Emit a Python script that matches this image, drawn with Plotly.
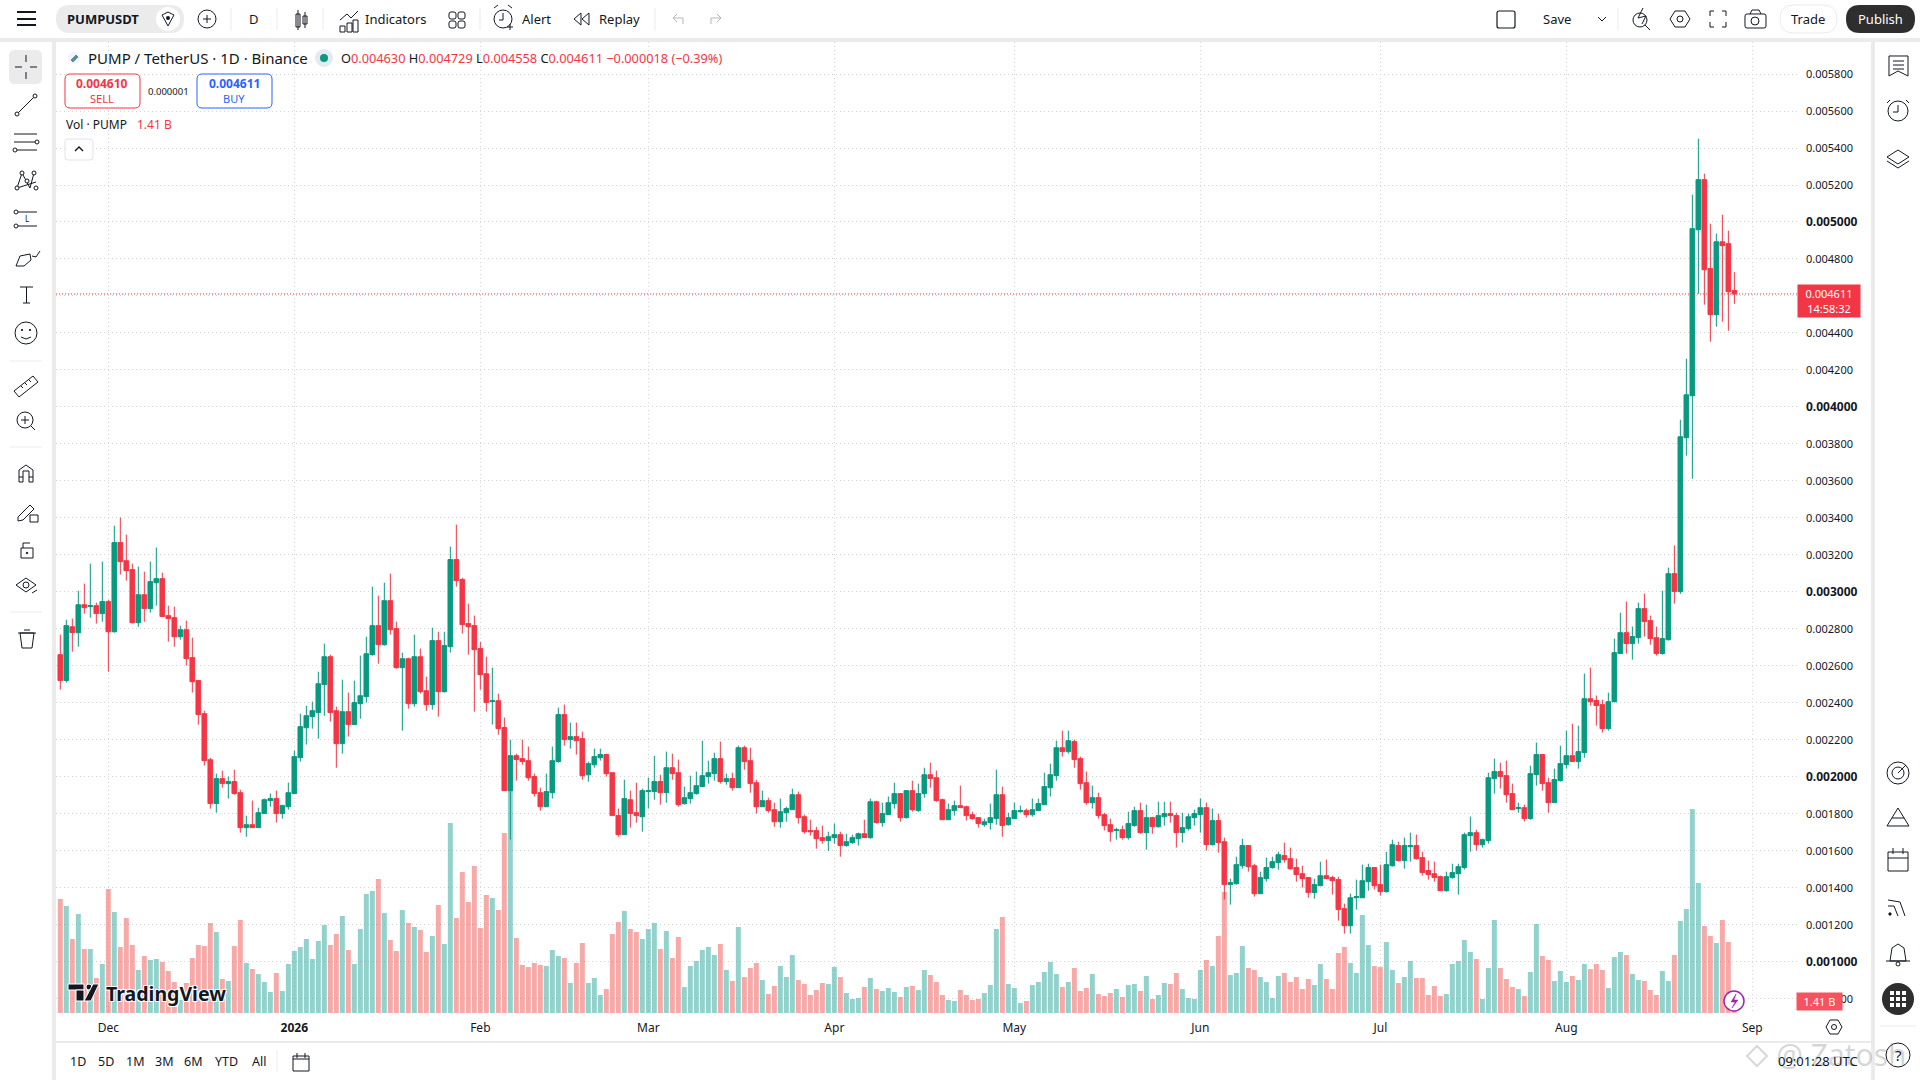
import plotly.graph_objects as go
import pandas as pd

# prices in millionths of USDT, one candle a day from 2025-11-23
opens = [
    2661, 2521, 2812, 2780, 2931, 2921, 2926, 2883, 2948, 2785,
    3267, 3169, 3121, 2834, 2985, 2910, 3050, 3072, 2872, 2861,
    2758, 2796, 2645, 2521, 2342, 2093, 1856, 1991, 1964, 1975,
    1915, 1726, 1742, 1726, 1802, 1872, 1883, 1802, 1839, 1910,
    2104, 2266, 2326, 2348, 2499, 2650, 2358, 2180, 2353, 2283,
    2396, 2434, 2661, 2818, 2715, 2953, 2802, 2591, 2639, 2396,
    2650, 2466, 2391, 2737, 2461, 2704, 3175, 3067, 2829, 2818,
    2694, 2558, 2407, 2412,
    2267, 1926, 2115, 2099, 2088, 2002, 1915, 1839, 1915, 2083,
    2337, 2202, 2218, 2207, 2012, 2066, 2104, 2121, 2023, 1791,
    1688, 1877, 1807, 1785, 1921, 1921, 1975, 1915, 2050, 2023,
    1856, 1883, 1910, 1948, 2002, 2018, 2099, 1975, 1991, 1942,
    2158, 2088, 1969, 1839, 1872, 1823, 1758, 1807, 1823, 1904,
    1785, 1710, 1710, 1672, 1656, 1672, 1688, 1629, 1645, 1666,
    1693, 1672, 1866, 1753, 1796, 1856, 1910, 1780, 1926, 1818,
    1910, 2012, 1996, 1877, 1769, 1818, 1845, 1839, 1796, 1780,
    1742, 1753, 1775, 1904, 1742, 1775, 1812, 1818, 1796, 1818,
    1850, 1942, 2007, 2158, 2137, 2191, 2099, 1969, 1861, 1888,
    1796, 1742, 1710, 1715, 1672, 1737, 1818, 1699, 1780, 1731,
    1785, 1802, 1791, 1699, 1721, 1780, 1796, 1834, 1634, 1764,
    1650, 1418, 1423, 1520, 1629, 1520, 1369, 1450, 1510, 1537,
    1575, 1558, 1510, 1477, 1456, 1375, 1412, 1466, 1456, 1445,
    1288, 1196, 1347, 1347, 1434, 1510, 1418, 1380, 1520, 1629,
    1548, 1623, 1629, 1564, 1494, 1477, 1461, 1385, 1456, 1477,
    1510, 1683, 1699, 1634, 1656, 1991, 2029, 2007, 1910, 1829,
    1834, 1775, 2013, 2121, 1969, 1861, 1980, 2067, 2115, 2083,
    2132, 2423, 2413, 2391, 2261, 2407, 2667, 2780, 2721, 2753,
    2910, 2845, 2753, 2667, 2742, 3099, 3002, 3834, 4061, 4958,
    5229, 4748, 4499, 4893, 4883, 4630,
]
highs = [
    2769, 2850, 2856, 3007, 3045, 3153, 2942, 3164, 2958, 3358,
    3402, 3310, 3153, 3137, 3110, 3164, 3240, 3104, 2926, 2921,
    2818, 2845, 2753, 2521, 2358, 2104, 2018, 2034, 2002, 2039,
    1931, 1791, 1872, 1834, 1883, 1910, 1926, 1850, 1969, 2142,
    2342, 2385, 2407, 2569, 2721, 2661, 2380, 2526, 2456, 2521,
    2656, 2758, 3029, 2980, 3050, 3099, 2839, 2672, 2645, 2769,
    2694, 2542, 2807, 2785, 2785, 3245, 3364, 3077, 2937, 2872,
    2731, 2650, 2591, 2450,
    2321, 2202, 2126, 2202, 2164, 2018, 1942, 2018, 2164, 2375,
    2391, 2294, 2294, 2245, 2083, 2153, 2153, 2126, 2023, 1829,
    1985, 1926, 1969, 1937, 1996, 2115, 2012, 2137, 2126, 2094,
    1948, 2007, 2029, 2196, 2088, 2131, 2191, 2018, 2023, 2169,
    2169, 2158, 1985, 1926, 1888, 1861, 1883, 1839, 1937, 1921,
    1796, 1769, 1731, 1737, 1704, 1748, 1704, 1693, 1688, 1699,
    1769, 1883, 1872, 1861, 1894, 1969, 1910, 1926, 1980, 1964,
    2050, 2077, 2034, 1883, 1856, 1872, 1953, 1845, 1812, 1780,
    1775, 1856, 2039, 1948, 1807, 1861, 1845, 1829, 1883, 1883,
    2023, 2072, 2196, 2250, 2250, 2202, 2110, 2029, 1953, 1915,
    1807, 1775, 1726, 1737, 1812, 1839, 1861, 1850, 1785, 1866,
    1866, 1866, 1807, 1807, 1802, 1823, 1883, 1861, 1829, 1802,
    1672, 1450, 1569, 1666, 1629, 1531, 1488, 1564, 1569, 1596,
    1645, 1618, 1558, 1520, 1456, 1450, 1542, 1553, 1466, 1461,
    1315, 1369, 1445, 1526, 1531, 1510, 1526, 1596, 1661, 1650,
    1672, 1699, 1688, 1596, 1548, 1542, 1467, 1488, 1531, 1531,
    1699, 1786, 1715, 1667, 2023, 2099, 2077, 2088, 1964, 1861,
    1850, 2061, 2186, 2121, 1996, 2045, 2169, 2250, 2288, 2277,
    2559, 2591, 2440, 2418, 2456, 2748, 2888, 2948, 2813, 2942,
    2991, 2872, 2813, 3007, 3132, 3251, 3931, 4261, 5148, 5450,
    5261, 4991, 4937, 5039, 4953, 4729,
]
lows = [
    2472, 2510, 2677, 2704, 2883, 2861, 2829, 2839, 2569, 2780,
    3094, 3061, 2829, 2812, 2839, 2888, 2926, 2867, 2731, 2704,
    2742, 2602, 2456, 2283, 2061, 1829, 1807, 1942, 1883, 1904,
    1699, 1677, 1726, 1726, 1802, 1839, 1753, 1775, 1823, 1910,
    2083, 2175, 2261, 2207, 2331, 2299, 2050, 2126, 2218, 2283,
    2315, 2402, 2656, 2612, 2710, 2769, 2585, 2250, 2369, 2380,
    2450, 2358, 2364, 2326, 2456, 2672, 3029, 2775, 2661, 2353,
    2472, 2353, 2283, 2229,
    1926, 1661, 1980, 2066, 1980, 1894, 1818, 1839, 1883, 2077,
    2169, 2153, 2121, 1985, 1975, 2050, 2088, 2002, 1791, 1677,
    1688, 1726, 1753, 1704, 1829, 1877, 1850, 1861, 1985, 1839,
    1850, 1856, 1904, 1948, 1964, 1980, 1964, 1958, 1926, 1942,
    2039, 1915, 1802, 1839, 1807, 1731, 1726, 1758, 1823, 1748,
    1693, 1683, 1612, 1639, 1600, 1639, 1569, 1623, 1639, 1629,
    1672, 1666, 1748, 1731, 1796, 1829, 1758, 1775, 1812, 1812,
    1888, 1942, 1866, 1769, 1769, 1791, 1834, 1764, 1769, 1726,
    1731, 1715, 1742, 1677, 1737, 1775, 1807, 1780, 1785, 1818,
    1850, 1894, 1980, 2110, 2126, 2050, 1931, 1850, 1829, 1775,
    1710, 1650, 1661, 1661, 1661, 1731, 1693, 1607, 1693, 1726,
    1737, 1753, 1618, 1645, 1710, 1737, 1699, 1602, 1629, 1591,
    1337, 1310, 1418, 1504, 1488, 1353, 1369, 1434, 1504, 1499,
    1537, 1499, 1434, 1402, 1347, 1342, 1412, 1450, 1364, 1223,
    1153, 1153, 1283, 1347, 1385, 1391, 1358, 1375, 1515, 1542,
    1504, 1542, 1553, 1467, 1445, 1434, 1385, 1380, 1450, 1364,
    1499, 1596, 1602, 1618, 1640, 1910, 1937, 1861, 1823, 1807,
    1759, 1769, 1953, 1926, 1807, 1861, 1975, 2045, 2083, 2045,
    2104, 2386, 2277, 2240, 2250, 2402, 2667, 2667, 2634, 2721,
    2759, 2715, 2656, 2661, 2737, 2937, 2990, 3737, 3612, 4612,
    4553, 4353, 4434, 4461, 4412, 4558,
]
closes = [
    2521, 2818, 2780, 2931, 2915, 2926, 2883, 2948, 2785, 3267,
    3164, 3115, 2834, 2985, 2910, 3056, 3072, 2867, 2856, 2758,
    2796, 2639, 2515, 2337, 2088, 1856, 1991, 1964, 1975, 1910,
    1726, 1742, 1726, 1807, 1877, 1883, 1802, 1845, 1915, 2110,
    2272, 2331, 2358, 2504, 2650, 2348, 2180, 2353, 2283, 2402,
    2439, 2666, 2818, 2715, 2953, 2796, 2591, 2639, 2396, 2650,
    2461, 2391, 2737, 2461, 2710, 3175, 3061, 2823, 2812, 2688,
    2553, 2402, 2412, 2261,
    1926, 2115, 2094, 2083, 1996, 1910, 1839, 1921, 2088, 2337,
    2202, 2218, 2196, 2007, 2072, 2110, 2121, 2018, 1791, 1688,
    1883, 1802, 1791, 1926, 1926, 1975, 1915, 2050, 2018, 1850,
    1888, 1915, 1953, 2007, 2023, 2099, 1975, 1991, 1942, 2158,
    2083, 1964, 1839, 1872, 1818, 1758, 1812, 1829, 1904, 1780,
    1704, 1704, 1666, 1656, 1677, 1688, 1629, 1650, 1672, 1693,
    1672, 1866, 1753, 1802, 1861, 1910, 1780, 1926, 1823, 1910,
    2012, 1991, 1872, 1769, 1823, 1845, 1834, 1791, 1775, 1748,
    1758, 1780, 1904, 1737, 1780, 1818, 1818, 1796, 1823, 1856,
    1948, 2012, 2158, 2137, 2196, 2094, 1964, 1861, 1888, 1791,
    1737, 1704, 1715, 1672, 1748, 1818, 1699, 1780, 1731, 1791,
    1802, 1791, 1699, 1726, 1785, 1802, 1834, 1634, 1764, 1645,
    1418, 1429, 1526, 1629, 1515, 1369, 1456, 1510, 1542, 1580,
    1553, 1504, 1472, 1450, 1375, 1418, 1466, 1450, 1439, 1283,
    1196, 1347, 1353, 1439, 1510, 1412, 1380, 1526, 1634, 1548,
    1629, 1629, 1558, 1483, 1472, 1456, 1385, 1461, 1483, 1515,
    1688, 1699, 1634, 1661, 1996, 2029, 2002, 1904, 1823, 1834,
    1775, 2018, 2121, 1964, 1861, 1986, 2072, 2115, 2083, 2137,
    2423, 2407, 2386, 2261, 2407, 2672, 2780, 2721, 2759, 2910,
    2840, 2748, 2667, 2748, 3099, 3002, 3839, 4066, 4964, 5229,
    4742, 4499, 4893, 4872, 4623, 4611,
]
# volume in billions
volumes = [
    57, 53.5, 37, 49.5, 32, 32, 17.5, 24.5, 62, 50.5, 33, 47.5, 34, 21.5, 28.5, 26.5, 27, 25.5, 21, 15.5,
    6.5, 15, 27.5, 34, 33.5, 45, 40.5, 17, 16, 33.5, 46.5, 25, 22, 19.5, 15.5, 10.5, 20, 11, 24.5, 31,
    33, 37, 27, 36, 44, 34, 39.5, 48.5, 31.5, 24.5, 42, 59.5, 61, 67, 50, 36.5, 31, 51.5, 45, 43,
    41.5, 30.5, 38.5, 54, 34.5, 95, 47.5, 70.5, 55.5, 73.5, 42.5, 59, 57.5, 51.5, 90, 114, 37.5, 24, 23, 25,
    24, 23.5, 31.5, 28.5, 27.5, 15, 25, 35, 15, 17.5, 9, 12, 39.5, 45.5, 51, 42, 40.5, 37, 42, 45,
    32, 41, 27.5, 38, 13, 23.5, 26, 31.5, 33, 29, 34.5, 21.5, 16, 43,
    18, 22.5, 25, 16.5, 9.5, 13.5, 23.5, 18, 29, 16.5, 14.5, 9, 11.5, 15, 14.5, 23, 18, 10, 7, 7.5,
    13, 17.5, 12, 11, 12.5, 10.5, 8, 13, 13.5, 11.5, 21.5, 19, 15.5, 9, 6.5, 6, 11.5, 9, 6.5, 7,
    10, 14, 42, 48, 14.5, 12.5, 5, 6, 14,
    15.5, 20.5, 25.5, 19.5, 13, 15.5, 22.5, 11, 12.5, 19.5, 9.5, 8.5, 10, 12, 8, 14, 14.5, 11, 18.5, 7,
    9, 15, 14.5, 20, 12, 7.5, 7, 21.5, 26.5, 23.5, 38.5, 60.5, 19, 20, 33.5, 22.5, 21.5, 18, 15.5, 7.5,
    18.5, 20, 15.5, 18, 12, 17, 14, 24.5, 17,
    12, 30, 33, 25, 20, 49, 34, 23.5, 23, 35.5, 21.5, 15, 18, 26, 17.5, 17.5, 9, 13.5, 8.5, 9.5,
    24.5, 26, 36.5, 30.5, 27, 7, 22.5, 46.5, 22.5, 17, 13, 12, 8.5, 20.5, 44.5, 28.5, 26.5, 16, 21, 15.5,
    18.5, 16.5, 24.5, 22, 24.5, 21.5, 12.5, 28, 30.5, 29, 19.5, 16.5, 16, 11.5, 9, 21, 16, 29, 46, 52,
    102, 65, 43.5, 38.5, 35, 46.5, 35.5, 1.41,
]
month_ticks = ["2025-12-01", "2026-01-01", "2026-02-01", "2026-03-01", "2026-04-01", "2026-05-01",
               "2026-06-01", "2026-07-01", "2026-08-01", "2026-09-01"]
month_labels = ["Dec", "<b>2026</b>", "Feb", "Mar", "Apr", "May", "Jun", "Jul", "Aug", "Sep"]
price_ticks = [800, 1000, 1200, 1400, 1600, 1800, 2000, 2200, 2400, 2600, 2800, 3000, 3200,
               3400, 3600, 3800, 4000, 4200, 4400, 4600, 4800, 5000, 5200, 5400, 5600, 5800]

if not len(opens) == len(highs) == len(lows) == len(closes) == len(volumes) == 280:
    raise ValueError("series lengths differ")

W, H = 1920, 1080
INK = "#131722"
FONT = "Noto Sans"
GREEN = "#089981"
RED = "#f23645"
GRID = "#d4d4d4"
BAND = "#ebebeb"

dates = pd.date_range("2025-11-23", periods=len(opens), freq="D")
price_labels = []
for t in price_ticks:
    label = f"{t / 1e6:.6f}"
    price_labels.append(f"<span style='font-size:12px'><b>{label}</b></span>" if t % 1000 == 0 else label)
bar_colors = ["rgba(38,166,154,0.5)" if c >= o else "rgba(239,83,80,0.5)" for o, c in zip(opens, closes)]

fig = go.Figure()
fig.add_trace(go.Bar(x=dates, y=volumes, marker=dict(color=bar_colors, line=dict(width=0)),
                     xaxis="x", yaxis="y", hoverinfo="skip"))
fig.add_trace(go.Candlestick(
    x=dates,
    open=[v / 1e6 for v in opens],
    high=[v / 1e6 for v in highs],
    low=[v / 1e6 for v in lows],
    close=[v / 1e6 for v in closes],
    increasing=dict(line=dict(color=GREEN, width=1), fillcolor=GREEN),
    decreasing=dict(line=dict(color=RED, width=1), fillcolor=RED),
    whiskerwidth=0,
    xaxis="x", yaxis="y2",
))

# toolbar furniture, everything in screen pixels
shapes = []
notes = []


def line(x0, y0, x1, y1, c=INK, w=1):
    shapes.append(dict(type="line", xref="paper", yref="paper", x0=x0 / W, y0=1 - y0 / H, x1=x1 / W, y1=1 - y1 / H,
                       line=dict(color=c, width=w), layer="above"))


def box(x0, y0, x1, y1, fill="rgba(0,0,0,0)", c=INK, w=1):
    shapes.append(dict(type="rect", xref="paper", yref="paper", x0=x0 / W, y0=1 - y0 / H, x1=x1 / W, y1=1 - y1 / H,
                       fillcolor=fill, line=dict(color=c, width=w), layer="above"))


def ring(cx, cy, r, fill="rgba(0,0,0,0)", c=INK, w=1):
    shapes.append(dict(type="circle", xref="paper", yref="paper", x0=(cx - r) / W, y0=1 - (cy + r) / H,
                       x1=(cx + r) / W, y1=1 - (cy - r) / H, fillcolor=fill, line=dict(color=c, width=w), layer="above"))


def p(x, y):
    return f"{x / W:.5f},{1 - y / H:.5f}"


def rbox(x0, y0, x1, y1, r, fill="rgba(0,0,0,0)", c="rgba(0,0,0,0)", w=1):
    d = (f"M{p(x0 + r, y0)} L{p(x1 - r, y0)} Q{p(x1, y0)} {p(x1, y0 + r)} L{p(x1, y1 - r)} "
         f"Q{p(x1, y1)} {p(x1 - r, y1)} L{p(x0 + r, y1)} Q{p(x0, y1)} {p(x0, y1 - r)} "
         f"L{p(x0, y0 + r)} Q{p(x0, y0)} {p(x0 + r, y0)} Z")
    shapes.append(dict(type="path", xref="paper", yref="paper", path=d, fillcolor=fill,
                       line=dict(color=c, width=w), layer="above"))


def poly(points, fill="rgba(0,0,0,0)", c=INK, w=1, closed=True):
    d = "M" + " L".join(p(x, y) for x, y in points) + (" Z" if closed else "")
    shapes.append(dict(type="path", xref="paper", yref="paper", path=d, fillcolor=fill,
                       line=dict(color=c, width=w), layer="above"))


def text(x, y, s, size=13, c=INK, anchor="center", **font):
    notes.append(dict(xref="paper", yref="paper", x=x / W, y=1 - y / H, text=s, showarrow=False,
                      xanchor=anchor, yanchor="middle", borderpad=0,
                      font=dict(family=FONT, size=size, color=c, **font)))


# grey bands between panels
box(0, 38, W, 42, BAND, BAND, 0)
box(52, 42, 56, H, BAND, BAND, 0)
box(1871, 42, 1875, H, BAND, BAND, 0)
line(56, 1042, 1871, 1042, BAND, 2)

# top bar
for y in (12, 19, 25):
    line(17, y, 36, y, INK, 2)
rbox(56, 5, 184, 33, 14, BAND)
ring(168, 19, 12, "white", "white", 0)
poly([(162, 15), (168, 12), (174, 15), (168, 26)])
ring(168, 18, 2, INK, INK, 0)
text(103, 19, "<b>PUMPUSDT</b>", 13)
ring(207, 19, 9)
line(203, 19, 211, 19)
line(207, 15, 207, 23)
for x in (231, 277, 323, 480, 655, 1618):
    line(x, 8, x, 30, BAND, 1)
text(254, 19, "D", 13)
box(296, 14, 300, 27)
line(298, 10, 298, 30)
box(303, 16, 307, 24)
line(305, 12, 305, 28)
poly([(340, 20), (347, 14), (351, 18), (358, 11)], closed=False)
box(340, 26, 345, 32)
box(347, 23, 352, 32)
box(353, 20, 358, 32)
text(395, 19, "Indicators", 13)
for x0 in (449, 458):
    for y0 in (12, 21):
        rbox(x0, y0, x0 + 7, y0 + 7, 2, c=INK, w=1)
ring(503, 19, 9)
line(503, 13, 503, 20)
line(503, 20, 499, 20)
line(507, 27, 513, 27)
line(510, 24, 510, 30)
line(494, 8, 498, 5)
line(508, 5, 512, 8)
text(536, 19, "Alert", 13)
poly([(581, 13), (574, 19), (581, 25)])
poly([(589, 13), (582, 19), (589, 25)])
text(619, 19, "Replay", 13)
poly([(683, 24), (683, 18), (673, 18), (677, 14)], c="#b2b5be", closed=False)
line(673, 18, 677, 22, "#b2b5be")
poly([(711, 24), (711, 18), (721, 18), (717, 14)], c="#b2b5be", closed=False)
line(721, 18, 717, 22, "#b2b5be")
rbox(1497, 11, 1515, 28, 2, c=INK, w=1.2)
text(1557, 19, "Save", 13)
poly([(1598, 17), (1602, 21), (1606, 17)], closed=False)
ring(1640, 20, 7)
line(1645, 25, 1650, 30)
poly([(1643, 8), (1638, 18), (1646, 16), (1642, 24)], closed=False)
poly([(1670, 19), (1675, 11), (1685, 11), (1690, 19), (1685, 27), (1675, 27)])
ring(1680, 19, 3)
for x0, x1, y in ((1710, 1714, 11), (1722, 1726, 11), (1710, 1714, 27), (1722, 1726, 27)):
    line(x0, y, x1, y)
line(1710, 11, 1710, 16)
line(1726, 11, 1726, 16)
line(1710, 22, 1710, 27)
line(1726, 22, 1726, 27)
rbox(1745, 14, 1766, 28, 2, c=INK)
ring(1755, 21, 4)
line(1750, 14, 1752, 10)
line(1752, 10, 1759, 10)
line(1759, 10, 1761, 14)
rbox(1780, 5, 1837, 33, 14, "white", BAND, 1)
text(1808, 19, "Trade", 13)
rbox(1846, 5, 1915, 33, 14, "#2e2e2e")
text(1880, 19, "Publish", 13, "white")

# legend block over the chart
ring(74, 58, 6, "#f0f3fa", "#f0f3fa", 0)
poly([(71, 60), (76, 55), (78, 57), (73, 62)], "#5f8f8f", "#5f8f8f", 1)
text(87, 58, "PUMP / TetherUS · 1D · Binance", 15, anchor="left")
ring(324, 58, 9, "#e3eaf0", "#e3eaf0", 0)
ring(324, 58, 4, GREEN, GREEN, 0)
red = f"<span style='color:{RED}'>"
text(340, 58, f"O{red}0.004630</span> H{red}0.004729</span> L{red}0.004558</span> C{red}0.004611</span> "
              f"{red}−0.000018 (−0.39%)</span>", 12.75, anchor="left")
rbox(65, 74, 140, 108, 5, "white", RED, 1)
text(102, 84, "<b>0.004610</b>", 12, RED)
text(102, 98, "SELL", 11, RED)
text(168, 91, "0.000001", 9.5)
rbox(197, 74, 272, 108, 5, "white", "#2962ff", 1)
text(234, 84, "<b>0.004611</b>", 12, "#2962ff")
text(234, 98, "BUY", 11, "#2962ff")
text(65, 125, "Vol · PUMP", 12, anchor="left")
text(136, 125, "1.41 B", 12, RED, anchor="left")
rbox(65, 139, 93, 160, 3, "white", "#e0e3eb", 1)
poly([(75, 151), (79, 147), (83, 151)], w=1.4, closed=False)

# left drawing tools
rbox(9, 50, 42, 84, 6, BAND)
line(26, 55, 26, 62)
line(26, 72, 26, 79)
line(15, 67, 22, 67)
line(30, 67, 37, 67)
line(18, 113, 34, 97)
ring(17, 114, 2, "white")
ring(35, 96, 2, "white")
for y in (134, 142, 150):
    line(14, y, 37, y)
ring(37, 142, 2, "white")
ring(15, 150, 2, "white")
poly([(17, 188), (22, 173), (30, 188), (34, 173)], closed=False)
line(17, 188, 36, 182)
for x, y in ((17, 188), (22, 173), (27, 181), (34, 173), (36, 188)):
    ring(x, y, 2, "white")
line(18, 212, 37, 212)
line(18, 226, 37, 226)
ring(16, 212, 2, "white")
ring(16, 226, 2, "white")
text(27, 219, "L", 8)
poly([(16, 266), (20, 256), (30, 254), (31, 260), (24, 266)])
poly([(32, 256), (36, 257), (40, 251)], closed=False)
line(20, 287, 33, 287)
line(26.5, 287, 26.5, 303)
line(23, 303, 30, 303)
ring(26, 333, 11)
ring(22, 330, 0.7, INK)
ring(30, 330, 0.7, INK)
poly([(21, 337), (26, 339), (31, 337)], closed=False)
for y in (361, 447, 612):
    line(10, y, 42, y, BAND, 1)
poly([(14, 391), (33, 376), (38, 382), (19, 397)])
for x, y in ((21, 386), (25, 383), (29, 380)):
    line(x, y, x + 2, y + 2)
ring(25, 420, 8)
line(21, 420, 29, 420)
line(25, 416, 25, 424)
line(31, 426, 35, 430)
poly([(19, 482), (19, 470), (26, 465), (33, 470), (33, 482), (29, 482), (29, 471), (23, 471), (23, 482)])
line(19, 477, 23, 477)
line(29, 477, 33, 477)
poly([(18, 517), (30, 505), (34, 509), (23, 520), (18, 521)])
box(30, 515, 38, 522)
box(21, 548, 33, 558)
poly([(23, 548), (23, 543), (30, 543)], closed=False)
ring(27, 553, 0.8, INK)
poly([(16, 585), (26, 578), (36, 585), (26, 592)])
ring(26, 585, 3)
line(32, 593, 37, 590)
poly([(20, 633), (22, 648), (32, 648), (34, 633)])
line(18, 633, 36, 633)
line(24, 630, 30, 630)

# right tools
poly([(1889, 56), (1908, 56), (1908, 76), (1898, 71), (1889, 76)])
for y in (61, 65, 69):
    line(1893, y, 1904, y)
ring(1898, 111, 10)
line(1898, 105, 1898, 112)
line(1898, 112, 1893, 112)
line(1887, 103, 1890, 100)
line(1906, 100, 1909, 103)
poly([(1887, 157), (1898, 150), (1909, 157), (1898, 164)])
poly([(1887, 161), (1898, 168), (1909, 161)], closed=False)
ring(1898, 773, 11)
ring(1898, 773, 6)
line(1898, 773, 1906, 765)
poly([(1887, 826), (1898, 808), (1909, 826)])
line(1892, 818, 1904, 818)
box(1888, 852, 1908, 871)
line(1888, 858, 1908, 858)
line(1893, 848, 1893, 854)
line(1903, 848, 1903, 854)
ring(1890, 914, 1.2, INK)
poly([(1888, 906), (1894, 906), (1898, 916)], closed=False)
poly([(1888, 900), (1900, 902), (1905, 916)], closed=False)
poly([(1890, 961), (1892, 948), (1898, 944), (1904, 948), (1906, 961)])
line(1886, 961, 1910, 961)
ring(1898, 964, 2)
ring(1898, 999, 16, "#2e2e2e", "#2e2e2e", 0)
for dx in (-6, 0, 6):
    for dy in (-6, 0, 6):
        box(1898 + dx - 2, 999 + dy - 2, 1898 + dx + 2, 999 + dy + 2, "white", "white", 0)
line(1880, 1026, 1916, 1026, BAND, 1)
ring(1898, 1055, 12)
text(1898, 1055, "?", 15)

# price and volume tags
text(1829, 301, "0.004611<br>14:58:32", 11, "white")
notes[-1].update(bgcolor=RED, width=62, height=32)
text(1819.5, 1001.5, "1.41 B", 11, "white")
notes[-1].update(bgcolor="#f7525f", width=45, height=17)
ring(1734, 1001, 10, "white", "#9c27b0", 1.5)
poly([(1736, 994), (1731, 1002), (1735, 1002), (1732, 1008), (1738, 1000), (1734, 1000)], "#9c27b0", "#9c27b0", 0.5)
poly([(1826, 1027), (1830, 1020), (1838, 1020), (1842, 1027), (1838, 1034), (1830, 1034)])
ring(1834, 1027, 2.5)

# TradingView mark
box(68, 984, 84, 990, INK, "white", 1)
box(76, 990, 84, 1001, INK, "white", 1)
ring(89, 987, 3, INK, "white", 1)
poly([(93, 984), (99, 984), (91, 1001), (84, 1001)], INK, "white", 1)
text(105, 993, "<b>TradingView</b>", 19.5, anchor="left",
     shadow="1px 1px 0 #fff, -1px -1px 0 #fff, 1px -1px 0 #fff, -1px 1px 0 #fff")

# bottom bar
for x, s in ((78, "1D"), (106, "5D"), (135, "1M"), (164, "3M"), (193, "6M"), (226, "YTD"), (259, "All")):
    text(x, 1061, s, 12.5)
line(277, 1050, 277, 1072, BAND, 1)
box(293, 1056, 309, 1071)
line(293, 1059, 309, 1059)
line(297, 1053, 297, 1058)
line(305, 1053, 305, 1058)
poly([(1757, 1046), (1767, 1056), (1757, 1066), (1747, 1056)], c="#d8d8d8", w=2)
text(1775, 1054, "@ Zatosh", 30, "rgba(110,110,110,0.28)", anchor="left")
text(1818, 1061, "09:01:28 UTC", 13)

# last price line, placed on the price scale
shapes.append(dict(type="line", xref="paper", yref="y2", x0=56 / W, x1=1797 / W, y0=closes[-1] / 1e6, y1=closes[-1] / 1e6,
                   line=dict(color=RED, width=1, dash="1px,2px"), layer="above"))

fig.update_layout(
    width=W, height=H,
    margin=dict(l=0, r=0, t=0, b=0),
    paper_bgcolor="white", plot_bgcolor="white",
    showlegend=False,
    bargap=0.17,
    boxgap=0.22, boxgroupgap=0,
    hovermode=False,
    font=dict(family=FONT, color=INK, size=12),
    shapes=shapes,
    annotations=notes,
    xaxis=dict(
        type="date",
        domain=[56 / W, 1797 / W],
        range=["2025-11-22 06:43", "2026-09-08 10:34"],
        tickmode="array", tickvals=month_ticks, ticktext=month_labels,
        tickfont=dict(size=12, color=INK),
        ticks="", ticklabelstandoff=6,
        showgrid=True, gridcolor=GRID, griddash="1px,3px", gridwidth=1,
        zeroline=False, showline=False,
        rangeslider=dict(visible=False),
    ),
    yaxis=dict(
        domain=[1 - 1013 / H, 1 - 42 / H],
        range=[0, 485.5],
        showgrid=False, zeroline=False, showline=False, showticklabels=False, ticks="",
    ),
    yaxis2=dict(
        overlaying="y", side="right", anchor="x",
        range=[0.000724, 0.005973],
        tickmode="array", tickvals=[t / 1e6 for t in price_ticks], ticktext=price_labels,
        tickfont=dict(size=11, color=INK),
        ticks="", ticklabelstandoff=8,
        showgrid=True, gridcolor=GRID, griddash="1px,3px", gridwidth=1,
        zeroline=False, showline=False,
    ),
)

# the page body has a default margin that would push the fixed-size figure off the window
fig.write_html("out.html", config={"displayModeBar": False}, post_script="document.body.style.margin='0';")
